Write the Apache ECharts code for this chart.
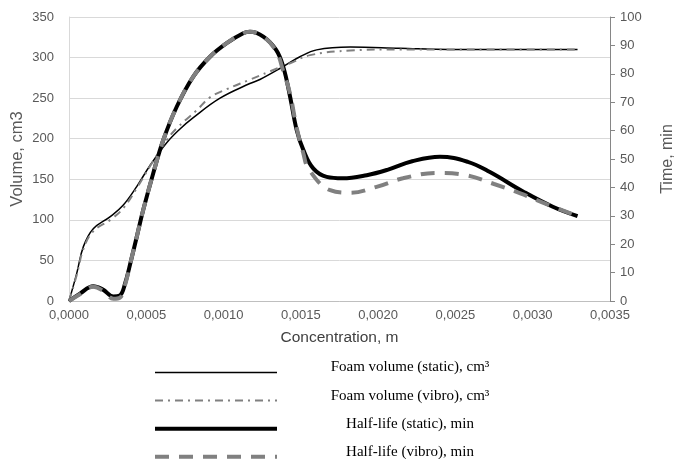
<!DOCTYPE html>
<html>
<head>
<meta charset="utf-8">
<script src="https://cdn.jsdelivr.net/npm/echarts@6/dist/echarts.min.js"></script>
<style>
  html, body { margin: 0; padding: 0; background: #ffffff; }
  #chart { width: 675px; height: 459px; }
</style>
</head>
<body>
<div id="chart"></div>
<script>
// concentration (m) and values
const foamStaticX = [0, 0.00005, 0.000093, 0.000157, 0.000267, 0.00035, 0.000438, 0.000524, 0.000632, 0.000718, 0.000804, 0.000977, 0.00117, 0.001235, 0.001386, 0.001494, 0.001602, 0.00182, 0.00214, 0.00246, 0.0028, 0.00329]
const foamStatic = [0, 34, 67, 89, 104, 118, 141, 167, 195, 212, 226, 250, 268, 273, 289, 301, 309.5, 313, 311.5, 310, 310, 310]

const foamVibroX = [0, 0.00005, 0.000093, 0.000157, 0.000267, 0.00035, 0.000438, 0.000524, 0.000632, 0.000697, 0.000826, 0.000912, 0.00102, 0.00116, 0.0013, 0.00143, 0.00156, 0.00182, 0.00214, 0.00246, 0.0028, 0.00329]
const foamVibro = [0, 32, 64, 86, 100, 114, 139, 166, 198, 213, 235, 251, 261, 272, 283, 293, 303, 308.6, 310, 310, 310, 310]

const halfStaticX = [0, 0.000071, 0.000157, 0.00022, 0.000287, 0.00033, 0.000362, 0.0004, 0.00044, 0.00048, 0.000545, 0.00061, 0.000697, 0.000804, 0.000912, 0.00102, 0.001127, 0.00117, 0.001257, 0.00134, 0.001386, 0.00143, 0.001473, 0.001516, 0.00158, 0.001667, 0.00177, 0.001926, 0.00206, 0.00222, 0.0024, 0.00258, 0.00272, 0.00294, 0.00313, 0.00329]
const halfStatic = [0, 2.6, 5.2, 4.0, 1.6, 2.0, 6, 14, 23, 32, 45, 56.7, 68.4, 79, 86, 90.8, 94.3, 94.8, 93.1, 88.4, 82.5, 72, 60.2, 53.2, 46.7, 43.7, 43.2, 44.3, 46.2, 49.2, 50.8, 49, 45.5, 38.5, 33.2, 29.9]

const halfVibroX = [0, 0.000071, 0.000157, 0.00022, 0.000287, 0.00033, 0.000362, 0.0004, 0.00044, 0.00048, 0.000545, 0.00061, 0.000697, 0.000804, 0.000912, 0.00102, 0.001127, 0.00117, 0.001257, 0.00134, 0.001386, 0.00143, 0.001473, 0.001516, 0.00155, 0.00169, 0.00182, 0.00199, 0.00216, 0.00238, 0.00257, 0.00275, 0.00292, 0.00309, 0.00329]
const halfVibro = [0, 2.4, 5.0, 3.6, 0.8, 1.2, 5.5, 14, 23, 32, 45, 56.7, 68.4, 79, 86, 90.8, 94.3, 94.8, 93.1, 88, 81, 73, 61, 52, 46.5, 39, 38.1, 40.2, 43.2, 45.1, 44.3, 41.2, 37.9, 34.1, 29.9]

const seriesNames = [
  'Foam volume (static), cm³',
  'Foam volume (vibro), cm³',
  'Half-life (static), min',
  'Half-life (vibro), min'
]

const zip = (xs, ys) => xs.map((x, i) => [x, ys[i]])

const chart = echarts.init(document.getElementById('chart'))
const tickColor = '#595959'
const sans = 'Liberation Sans'

const lineStyles = [
  { color: '#000000', width: 1.5 },
  { color: '#808080', width: 2, type: [8, 5, 2, 5] },
  { color: '#000000', width: 4 },
  { color: '#808080', width: 4, type: [14, 10] }
]

chart.setOption({
  backgroundColor: '#ffffff',
  animation: false,
  grid: { // plot area, fixed so names do not squeeze it
    left: 69,
    right: 65,
    top: 17,
    bottom: 158,
    containLabel: false,
    outerBoundsMode: 'none'
  },
  legend: {
    orient: 'vertical',
    left: 153,
    top: 360,
    height: 160,
    padding: 0,
    itemWidth: 122,
    itemHeight: 14,
    itemGap: 10,
    selectedMode: false,
    itemStyle: { color: 'transparent', borderWidth: 0 },
    data: seriesNames.map((name, i) => ({ name: name, lineStyle: lineStyles[i] })),
    formatter: name => '{a|' + name + '}',
    textStyle: {
      rich: {
        a: {
          width: 256,
          align: 'center',
          fontFamily: 'Liberation Serif',
          fontSize: 15,
          color: '#000000',
          padding: [0, 0, 10, 0]
        }
      }
    }
  },
  xAxis: {
    type: 'value',
    min: 0,
    max: 0.0035,
    interval: 0.0005,
    name: 'Concentration, m',
    nameLocation: 'middle',
    nameGap: 29,
    nameMoveOverlap: false,
    nameTextStyle: { fontFamily: sans, fontSize: 15.5, color: '#404040' },
    axisLine: { lineStyle: { color: '#bfbfbf', width: 1 } },
    axisTick: { show: false },
    axisLabel: {
      fontFamily: sans,
      fontSize: 13,
      color: tickColor,
      margin: 8,
      formatter: v => v.toFixed(4).replace('.', ',')
    },
    splitLine: { show: false }
  },
  yAxis: [
    {
      type: 'value',
      min: 0,
      max: 350,
      interval: 50,
      name: 'Volume, cm3',
      nameLocation: 'middle',
      nameGap: 43,
      nameMoveOverlap: false,
      nameTextStyle: { fontFamily: sans, fontSize: 16.5, color: tickColor },
      axisLine: { show: true, lineStyle: { color: '#d9d9d9' } },
      axisTick: { show: false },
      axisLabel: { fontFamily: sans, fontSize: 13, color: tickColor, margin: 15 },
      splitLine: { lineStyle: { color: '#d9d9d9', width: 1 } }
    },
    {
      type: 'value',
      position: 'right',
      min: 0,
      max: 100,
      interval: 10,
      name: 'Time, min',
      nameLocation: 'middle',
      nameGap: 50,
      nameMoveOverlap: false,
      nameTextStyle: { fontFamily: sans, fontSize: 16, color: tickColor },
      axisLine: { show: true, lineStyle: { color: '#868686' } },
      axisTick: { show: true, length: 5, lineStyle: { color: '#868686' } },
      axisLabel: { fontFamily: sans, fontSize: 13, color: tickColor, margin: 10 },
      splitLine: { show: false }
    }
  ],
  series: [
    {
      name: seriesNames[0],
      type: 'line',
      yAxisIndex: 0,
      smooth: 0.4,
      symbol: 'none',
      lineStyle: lineStyles[0],
      itemStyle: { color: '#000000' },
      data: zip(foamStaticX, foamStatic)
    },
    {
      name: seriesNames[1],
      type: 'line',
      yAxisIndex: 0,
      smooth: 0.4,
      symbol: 'none',
      lineStyle: lineStyles[1],
      itemStyle: { color: '#808080' },
      data: zip(foamVibroX, foamVibro)
    },
    {
      name: seriesNames[2],
      type: 'line',
      yAxisIndex: 1,
      smooth: 0.4,
      symbol: 'none',
      lineStyle: lineStyles[2],
      itemStyle: { color: '#000000' },
      data: zip(halfStaticX, halfStatic)
    },
    {
      name: seriesNames[3],
      type: 'line',
      yAxisIndex: 1,
      smooth: 0.4,
      symbol: 'none',
      lineStyle: lineStyles[3],
      itemStyle: { color: '#808080' },
      data: zip(halfVibroX, halfVibro)
    }
  ]
})
</script>
</body>
</html>
